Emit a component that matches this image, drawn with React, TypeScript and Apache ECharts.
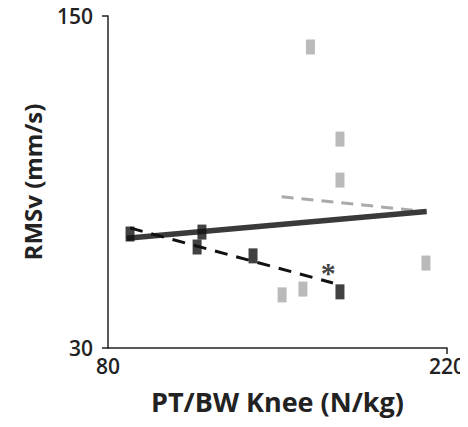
import React, { useEffect, useRef } from "react";
import * as echarts from "echarts";

// PT/BW knee (N/kg) vs RMSv (mm/s)
const grayPoints: [number, number][] = [
  [163.6, 138.8],
  [175.8, 105.5],
  [175.8, 90.7],
  [211.3, 60.7],
  [151.9, 49.2],
  [160.5, 51.3],
];
const blackPoints: [number, number][] = [
  [89.1, 71.2],
  [118.8, 71.9],
  [116.8, 66.5],
  [139.9, 63.3],
  [175.8, 50.3],
];
const blackTrend: [number, number][] = [
  [89.1, 73.4],
  [172.9, 53.5],
];
const grayTrend: [number, number][] = [
  [151.7, 84.7],
  [211.6, 79.3],
];
const overallTrend: [number, number][] = [
  [87.7, 69.7],
  [211.6, 79.3],
];
const significanceMark: [number, number][] = [[171, 57.5]];
const xTicks = [80, 220];
const yTicks = [30, 150];

const FONT = "Open Sans";

export default function App() {
  const ref = useRef<HTMLDivElement>(null);
  useEffect(() => {
    if (!ref.current) return;
    const chart = echarts.init(ref.current, undefined, { renderer: "svg" });
    chart.setOption({
      animation: false,
      backgroundColor: "#ffffff",
      grid: { left: 108, right: 21, top: 16, bottom: 79 },
      xAxis: {
        type: "value",
        min: 80,
        max: 220,
        name: "PT/BW Knee (N/kg)",
        nameLocation: "middle",
        nameGap: 40,
        nameTextStyle: { fontFamily: FONT, fontWeight: "bold", fontSize: 27, color: "#222" },
        axisLine: { lineStyle: { color: "#222", width: 1.5 } },
        axisTick: { show: true, customValues: [220], length: 6, lineStyle: { color: "#222", width: 1.5 } },
        axisLabel: { customValues: xTicks, fontFamily: FONT, fontWeight: 600, fontSize: 21, color: "#222", margin: 7 },
        splitLine: { show: false },
      },
      yAxis: {
        type: "value",
        min: 30,
        max: 150,
        name: "RMSv (mm/s)",
        nameLocation: "middle",
        nameGap: 64,
        nameTextStyle: { fontFamily: FONT, fontWeight: "bold", fontSize: 24, color: "#222" },
        axisLine: { show: true, lineStyle: { color: "#222", width: 1.5 } },
        axisTick: { show: true, customValues: yTicks, length: 6, lineStyle: { color: "#222", width: 1.5 } },
        axisLabel: { customValues: yTicks, fontFamily: FONT, fontWeight: 600, fontSize: 21, color: "#222", margin: 15 },
        splitLine: { show: false },
      },
      series: [
        {
          type: "line",
          data: grayTrend,
          symbol: "none",
          lineStyle: { color: "#aaaaaa", width: 3, type: [12, 8] },
          z: 2,
        },
        {
          type: "line",
          data: overallTrend,
          symbol: "none",
          lineStyle: { color: "#3a3a3a", width: 5.5 },
          z: 3,
        },
        {
          type: "line",
          data: blackTrend,
          symbol: "none",
          lineStyle: { color: "#111111", width: 3, type: [13, 9] },
          z: 4,
        },
        {
          type: "scatter",
          data: grayPoints,
          symbol: "rect",
          symbolSize: [9, 15],
          itemStyle: { color: "#a9a9a9" },
          z: 5,
        },
        {
          type: "scatter",
          data: blackPoints,
          symbol: "rect",
          symbolSize: [9, 15],
          itemStyle: { color: "#111111" },
          z: 6,
        },
        {
          type: "scatter",
          data: significanceMark,
          symbolSize: 0,
          label: {
            show: true,
            position: "inside",
            offset: [0, 1],
            formatter: "*",
            fontFamily: "Liberation Serif",
            fontWeight: "bold",
            fontSize: 30,
            color: "#111",
          },
          z: 7,
        },
      ],
    });
    return () => chart.dispose();
  }, []);
  return <div ref={ref} style={{ width: 468, height: 427, marginLeft: -8, marginTop: -8 }} />;
}
